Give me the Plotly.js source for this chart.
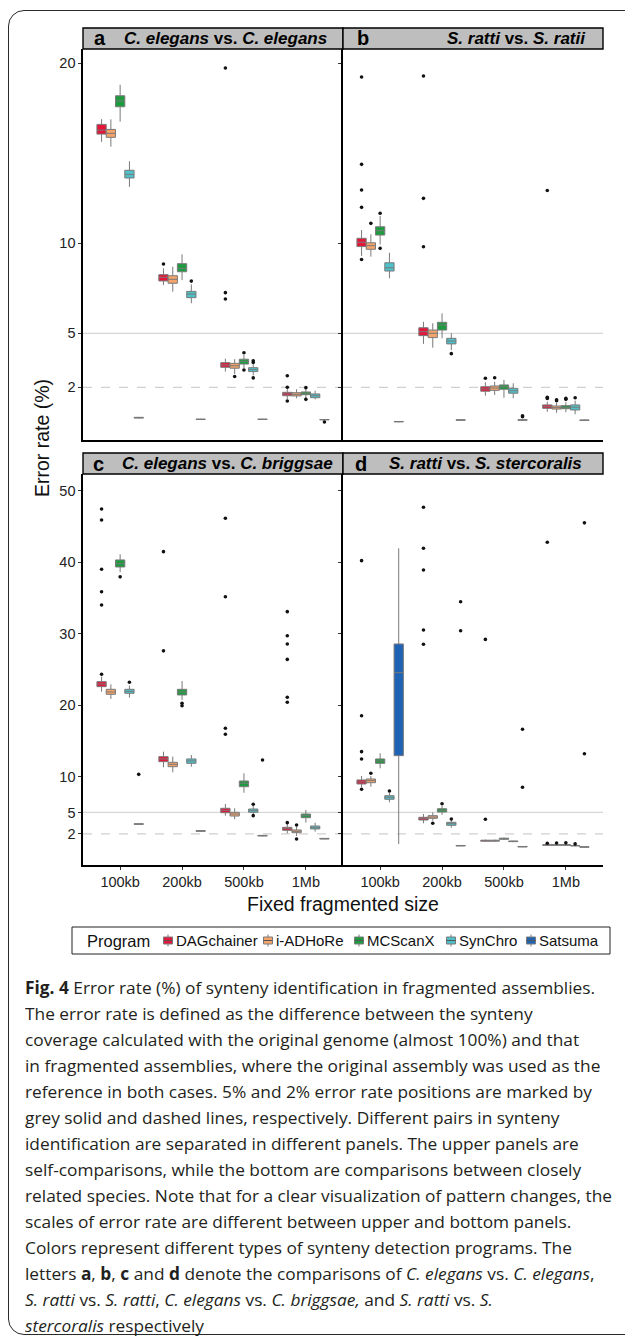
<!DOCTYPE html>
<html><head><meta charset="utf-8">
<script src="https://cdn.plot.ly/plotly-3.0.1.min.js"></script>
<style>
html,body{margin:0;padding:0;background:#fff;width:625px;height:1343px;overflow:hidden;}
#wrap{position:relative;width:625px;height:1343px;overflow:hidden;}
#frame{position:absolute;left:8px;top:10px;width:680px;height:1325px;border:1.5px solid #2a2a2a;border-radius:16px;box-sizing:border-box;}
#plot{position:absolute;left:0;top:0;width:625px;height:1343px;}
#caption{position:absolute;left:25px;top:975px;font-family:'Open Sans',sans-serif;font-size:17px;line-height:26px;color:#231f20;white-space:nowrap;transform-origin:0 0;transform:scaleX(0.86);}
#caption div{height:26px;}
</style></head>
<body>
<div id="wrap">
<div id="frame"></div>
<div id="plot"></div>
<div id="caption">
<div><b>Fig. 4</b> Error rate (%) of synteny identification in fragmented assemblies.</div>
<div>The error rate is defined as the difference between the synteny</div>
<div>coverage calculated with the original genome (almost 100%) and that</div>
<div>in fragmented assemblies, where the original assembly was used as the</div>
<div>reference in both cases. 5% and 2% error rate positions are marked by</div>
<div>grey solid and dashed lines, respectively. Different pairs in synteny</div>
<div>identification are separated in different panels. The upper panels are</div>
<div>self-comparisons, while the bottom are comparisons between closely</div>
<div id="longest">related species. Note that for a clear visualization of pattern changes, the</div>
<div>scales of error rate are different between upper and bottom panels.</div>
<div>Colors represent different types of synteny detection programs. The</div>
<div>letters <b>a</b>, <b>b</b>, <b>c</b> and <b>d</b> denote the comparisons of <i>C. elegans</i> vs. <i>C. elegans</i>,</div>
<div><i>S. ratti</i> vs. <i>S. ratti</i>, <i>C. elegans</i> vs. <i>C. briggsae,</i> and <i>S. ratti</i> vs. <i>S.</i></div>
<div><i>stercoralis</i> respectively</div>
</div>
</div>
<script>
const programs = ['DAGchainer','i-ADHoRe','MCScanX','SynChro','Satsuma'];
const sizes = ['100kb','200kb','500kb','1Mb'];
const colors = ['#E4163A','#F4A46B','#1C9B3F','#4DC0C8','#1F63B4'];

// rows = programs, columns = sizes
// Panel a: C. elegans vs. C. elegans
const aLow  = [[15.64,7.68,2.87,1.35],[15.37,7.31,2.74,1.39],[16.76,7.96,3.06,1.39],[13.14,6.67,2.66,1.33],[0.27,0.19,0.19,0.17]];
const aQ1   = [[16.07,7.91,3.11,1.53],[15.89,7.78,3.06,1.52],[17.59,8.42,3.29,1.59],[13.63,6.98,2.87,1.42],[0.29,0.21,0.21,0.19]];
const aMed  = [[16.29,8.11,3.24,1.63],[16.11,8.00,3.20,1.61],[17.92,8.61,3.44,1.68],[13.83,7.18,2.98,1.53],[0.31,0.22,0.22,0.20]];
const aQ3   = [[16.61,8.26,3.37,1.72],[16.33,8.20,3.33,1.70],[18.20,8.87,3.56,1.74],[14.06,7.33,3.09,1.63],[0.33,0.23,0.23,0.21]];
const aHigh = [[16.90,8.61,3.59,1.90],[16.89,8.70,3.56,1.89],[18.81,9.39,3.79,1.90],[14.56,7.72,3.28,1.81],[0.35,0.25,0.25,0.23]];
const aOut  = [[[],[8.85],[19.74,7.26,6.91],[2.64,2.0,1.24]],[[],[],[2.6],[]],[[],[],[3.92,2.96],[1.98,1.33]],[[],[7.9],[3.47,3.38,2.52],[]],[[],[],[],[0.07]]];

// Panel b: S. ratti vs. S. ratii
const bLow  = [[9.30,4.41,1.53,0.64],[9.26,4.20,1.57,0.58],[9.94,4.72,1.42,0.61],[8.06,4.07,1.39,0.50],[0.06,0.15,0.15,0.14]];
const bQ1   = [[9.82,4.87,1.78,0.83],[9.67,4.76,1.83,0.79],[10.46,5.18,1.89,0.81],[8.46,4.41,1.67,0.74],[0.08,0.17,0.17,0.16]];
const bMed  = [[10.06,5.09,1.91,0.92],[9.87,5.00,1.96,0.87],[10.70,5.46,2.03,0.89],[8.64,4.57,1.81,0.89],[0.09,0.18,0.18,0.17]];
const bQ3   = [[10.28,5.31,2.03,1.02],[10.03,5.18,2.07,0.96],[10.92,5.61,2.13,0.98],[8.92,4.72,1.94,1.02],[0.10,0.19,0.19,0.18]];
const bHigh = [[10.74,5.64,2.28,1.20],[10.50,5.56,2.31,1.13],[11.52,6.11,2.41,1.17],[9.48,5.00,2.22,1.26],[0.12,0.21,0.22,0.20]];
const bOut  = [[[19.24,14.39,12.96,12.0,9.1],[19.3,12.5,9.81],[2.5],[12.94,1.44,1.38]],[[11.11],[],[2.53],[1.3,1.25]],[[11.67,9.72],[],[],[1.39,1.33]],[[],[3.87],[],[1.42]],[[],[],[0.42,0.36],[]]];

// Panel c: C. elegans vs. C. briggsae
const cLow  = [[21.89,11.32,4.55,2.08],[20.87,10.62,4.04,1.71],[38.6,20.73,7.76,3.57],[21.05,11.40,4.78,2.31],[3.30,2.33,1.67,1.25]];
const cQ1   = [[22.59,12.10,4.96,2.50],[21.52,11.40,4.50,2.17],[39.33,21.43,8.60,4.27],[21.66,11.87,5.02,2.69],[3.34,2.37,1.71,1.29]];
const cMed  = [[22.97,12.48,5.30,2.73],[21.85,11.73,4.78,2.36],[39.79,21.85,9.08,4.55],[21.94,12.20,5.24,2.87],[3.38,2.41,1.75,1.33]];
const cQ3   = [[23.29,12.80,5.58,2.92],[22.22,12.01,5.02,2.55],[40.31,22.22,9.40,4.78],[22.22,12.48,5.48,3.10],[3.42,2.45,1.79,1.37]];
const cHigh = [[23.99,13.50,6.18,3.38],[22.92,12.80,5.58,3.00],[41.10,23.38,10.48,5.34],[22.73,13.03,5.94,3.57],[3.46,2.49,1.83,1.41]];
const cOut  = [[[47.44,45.9,39.0,35.87,34.01,24.32],[41.47,27.6],[46.14,35.17,16.77,15.93],[33.08,29.72,28.56,26.4,21.1,20.4,3.57]],[[],[],[],[3.24,1.29]],[[37.95],[20.27,19.93],[],[]],[[23.2],[],[6.14,4.55],[]],[[10.33],[],[12.34],[]]];

// Panel d: S. ratti vs. S. stercoralis
const dLow  = [[8.52,3.48,0.90,0.38],[8.60,3.85,0.90,0.38],[11.17,4.64,1.15,0.38],[6.42,2.87,0.85,0.28],[0.59,0.29,0.15,0.11]];
const dQ1   = [[8.98,3.94,0.98,0.42],[9.16,4.18,0.98,0.42],[11.87,5.06,1.25,0.42],[6.84,3.20,0.92,0.32],[12.94,0.32,0.18,0.14]];
const dMed  = [[9.26,4.13,1.05,0.45],[9.45,4.36,1.05,0.45],[12.20,5.30,1.33,0.45],[7.12,3.43,0.96,0.35],[24.55,0.35,0.21,0.17]];
const dQ3   = [[9.54,4.32,1.12,0.48],[9.68,4.55,1.12,0.48],[12.48,5.52,1.40,0.48],[7.34,3.62,1.00,0.38],[28.56,0.38,0.24,0.20]];
const dHigh = [[10.10,4.78,1.20,0.52],[10.10,5.02,1.20,0.52],[13.27,5.90,1.50,0.52],[7.76,3.94,1.06,0.42],[41.94,0.41,0.27,0.23]];
const dOut  = [[[40.21,18.53,13.5,12.48,8.24],[47.68,41.94,38.9,30.52,28.52],[29.2,4.04],[42.78,0.7]],[[10.48],[3.48],[],[0.72]],[[],[6.22],[],[0.75]],[[8.0],[4.08],[],[0.6]],[[],[34.47,30.4],[16.63,8.52],[45.5,13.2]]];

const topTicks = [2,5,10,20];
const bottomTicks = [2,5,10,20,30,40,50];
const panelLetters = ['a','b','c','d'];
const panelTitles = ['<b><i>C. elegans</i> vs. <i>C. elegans</i></b>','<b><i>S. ratti</i> vs. <i>S. ratii</i></b>','<b><i>C. elegans</i> vs. <i>C. briggsae</i></b>','<b><i>S. ratti</i> vs. <i>S. stercoralis</i></b>'];

const W = 625, H = 1343;
const px = v => v / W, py = v => 1 - v / H;
const FONT = 'Liberation Sans, Arial, Helvetica, sans-serif';

// dodge: each program gets its own slot inside a category (ggplot position_dodge, width 0.75)
const dodgeWidth = 0.75;
const slot = dodgeWidth / programs.length;
const offsets = programs.map((_, k) => (k - (programs.length - 1) / 2) * slot);
const catIndex = sizes.map((_, i) => i);

const panels = [
  {xa:'x', ya:'y', low:aLow, q1:aQ1, med:aMed, q3:aQ3, high:aHigh, out:aOut},
  {xa:'x2', ya:'y2', low:bLow, q1:bQ1, med:bMed, q3:bQ3, high:bHigh, out:bOut},
  {xa:'x3', ya:'y3', low:cLow, q1:cQ1, med:cMed, q3:cQ3, high:cHigh, out:cOut},
  {xa:'x4', ya:'y4', low:dLow, q1:dQ1, med:dMed, q3:dQ3, high:dHigh, out:dOut}
];

const traces = [];
panels.forEach(p => {
  programs.forEach((prog, k) => {
    traces.push({
      type:'box', name:prog, x:catIndex.map(i => i + offsets[k]), width:slot,
      q1:p.q1[k], median:p.med[k], q3:p.q3[k],
      lowerfence:p.low[k], upperfence:p.high[k],
      xaxis:p.xa, yaxis:p.ya,
      fillcolor:colors[k],
      line:{color:'#7a7a7a', width:1},
      whiskerwidth:0, boxpoints:false,
      showlegend:false, hoverinfo:'skip'
    });
  });
  programs.forEach((prog, k) => {
    const ox = [], oy = [];
    p.out[k].forEach((vals, i) => vals.forEach(v => { ox.push(i + offsets[k]); oy.push(v); }));
    traces.push({
      type:'scatter', mode:'markers', name:prog + ' outliers', x:ox, y:oy,
      xaxis:p.xa, yaxis:p.ya,
      marker:{color:'#111', size:3.6, line:{width:0}},
      showlegend:false, hoverinfo:'skip', cliponaxis:false
    });
  });
});

// panel geometry (pixels)
const colX = [[83,343],[343,603]];
const rowY = [[49,440],[474,865]];
const stripY = [[28,49],[453,474]];

function xax(col,row,anchor){
  const labels = row === 1;
  return {domain:[px(colX[col][0]),px(colX[col][1])], anchor:anchor, type:'linear',
    range:[-0.6,3.6], tickvals:catIndex, ticktext:sizes,
    showline:true, linecolor:'#000', linewidth:1.6,
    ticks: labels ? 'outside' : '', ticklen:3, tickcolor:'#333', showticklabels:labels,
    tickfont:{size:14.5, color:'#222', family:FONT}, showgrid:false, zeroline:false, fixedrange:true};
}
function yax(col,row,anchor,rng,tv,matches){
  const o = {domain:[py(rowY[row][1]),py(rowY[row][0])], anchor:anchor, range:rng,
    tickvals:tv, ticktext:tv.map(String),
    showline:true, linecolor:'#000', linewidth:1.6,
    ticks:'outside', ticklen:3, tickcolor:'#333', showticklabels: col===0,
    tickfont:{size:14.5, color:'#222', family:FONT}, showgrid:false, zeroline:false, fixedrange:true};
  if (matches) o.matches = matches;
  return o;
}

const topRange = [-0.93, 20.8];
const botRange = [-2.35, 52.33];

const shapes = [];
const annotations = [];
[['x','y'],['x2','y2'],['x3','y3'],['x4','y4']].forEach(([xa,ya]) => {
  shapes.push({type:'line', xref:xa+' domain', yref:ya, x0:0, x1:1, y0:5, y1:5, line:{color:'#d6d6d6', width:1.2}, layer:'below'});
  shapes.push({type:'line', xref:xa+' domain', yref:ya, x0:0, x1:1, y0:2, y1:2, line:{color:'#d0d0d0', width:1.2, dash:'dash'}, layer:'below'});
});
const letterX = [92,355,91,353];
const titleCX = [226,516,227.5,485.5];
for (let i=0;i<4;i++){
  const col = i%2, row = Math.floor(i/2);
  shapes.push({type:'rect', xref:'paper', yref:'paper', x0:px(colX[col][0]), x1:px(colX[col][1]),
    y0:py(stripY[row][1]), y1:py(stripY[row][0]), fillcolor:'#bebebe', line:{color:'#000', width:1.4}});
  const cy = py((stripY[row][0]+stripY[row][1])/2);
  annotations.push({xref:'paper', yref:'paper', x:px(letterX[i]), y:cy, xanchor:'left', yanchor:'middle',
    text:'<b>'+panelLetters[i]+'</b>', showarrow:false, font:{size:20, color:'#000', family:FONT}});
  annotations.push({xref:'paper', yref:'paper', x:px(titleCX[i]), y:cy, xanchor:'center', yanchor:'middle',
    text:panelTitles[i], showarrow:false, font:{size:17, color:'#000', family:FONT}});
}
annotations.push({xref:'paper', yref:'paper', x:px(42), y:py(438), xanchor:'center', yanchor:'middle', textangle:-90,
  text:'Error rate (%)', showarrow:false, font:{size:19.5, color:'#111', family:FONT}});
annotations.push({xref:'paper', yref:'paper', x:px(343), y:py(904), xanchor:'center', yanchor:'middle',
  text:'Fixed fragmented size', showarrow:false, font:{size:19.5, color:'#111', family:FONT}});

// legend (manual)
const legTop = 927, legBot = 954, legMid = (legTop+legBot)/2;
shapes.push({type:'rect', xref:'paper', yref:'paper', x0:px(72), x1:px(610), y0:py(legBot), y1:py(legTop), line:{color:'#222', width:1}, fillcolor:'rgba(0,0,0,0)'});
annotations.push({xref:'paper', yref:'paper', x:px(85), y:py(legMid), xanchor:'left', yanchor:'middle',
  text:'Program', showarrow:false, font:{size:16.5, color:'#111', family:FONT}});
const symX = [168,268,359,451,531];
programs.forEach((prog,k) => {
  shapes.push({type:'line', xref:'paper', yref:'paper', x0:px(symX[k]), x1:px(symX[k]), y0:py(legMid+6), y1:py(legMid-6), line:{color:'#7a7a7a', width:1}});
  shapes.push({type:'rect', xref:'paper', yref:'paper', x0:px(symX[k]-4.5), x1:px(symX[k]+4.5), y0:py(legMid+3.5), y1:py(legMid-3.5), fillcolor:colors[k], line:{color:'#7a7a7a', width:1}});
  shapes.push({type:'line', xref:'paper', yref:'paper', x0:px(symX[k]-4.5), x1:px(symX[k]+4.5), y0:py(legMid), y1:py(legMid), line:{color:'#555', width:1}});
  annotations.push({xref:'paper', yref:'paper', x:px(symX[k]+6), y:py(legMid), xanchor:'left', yanchor:'middle',
    text:prog, showarrow:false, font:{size:15, color:'#111', family:FONT}});
});

const layout = {
  width:W, height:H, margin:{l:0,r:0,t:0,b:0},
  paper_bgcolor:'rgba(0,0,0,0)', plot_bgcolor:'rgba(0,0,0,0)',
  boxmode:'overlay',
  showlegend:false, font:{family:FONT, color:'#222'},
  xaxis:xax(0,0,'y'), xaxis2:xax(1,0,'y2'), xaxis3:xax(0,1,'y3'), xaxis4:xax(1,1,'y4'),
  yaxis:yax(0,0,'x',topRange,topTicks), yaxis2:yax(1,0,'x2',topRange,topTicks,'y'),
  yaxis3:yax(0,1,'x3',botRange,bottomTicks), yaxis4:yax(1,1,'x4',botRange,bottomTicks,'y3'),
  shapes:shapes, annotations:annotations
};

Plotly.newPlot('plot', traces, layout, {staticPlot:true, displayModeBar:false});

function fitCaption(){
  const cap = document.getElementById('caption');
  const ln = document.getElementById('longest');
  cap.style.transform = 'none';
  const range = document.createRange();
  range.selectNodeContents(ln);
  const w = range.getBoundingClientRect().width;
  if (w > 0) cap.style.transform = 'scaleX(' + (587 / w) + ')';
}
fitCaption();
if (document.fonts && document.fonts.ready) document.fonts.ready.then(fitCaption);
</script>
</body></html>
